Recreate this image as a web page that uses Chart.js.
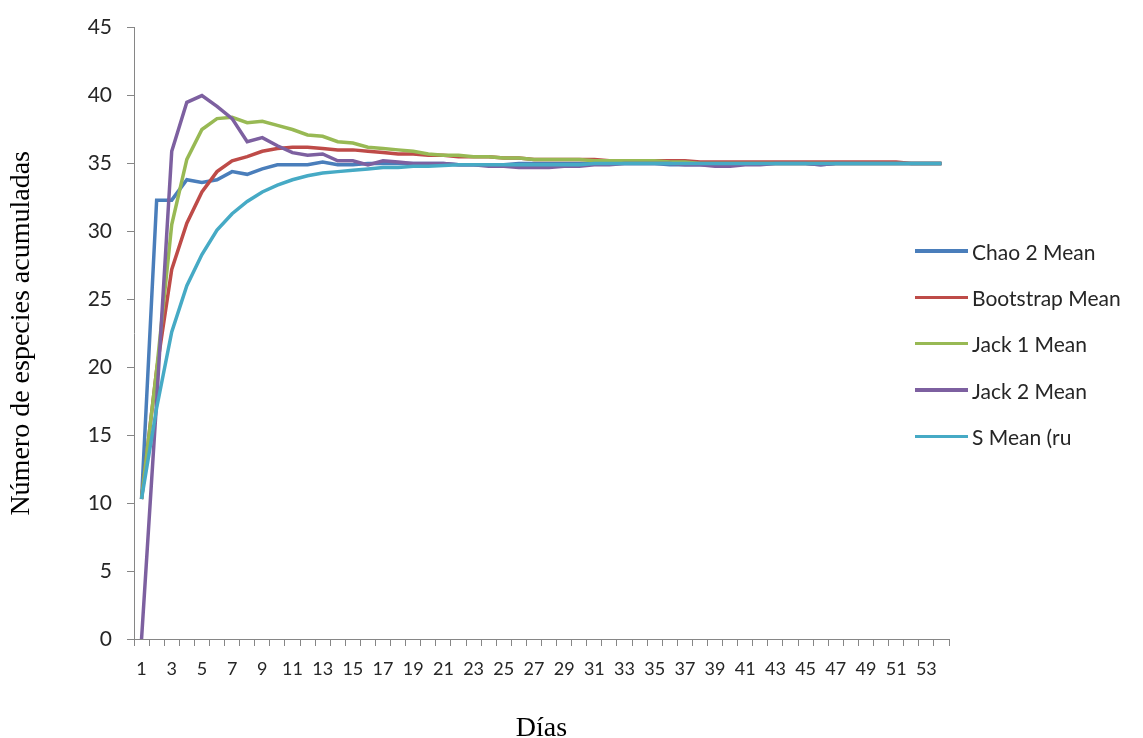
<!DOCTYPE html>
<html>
<head>
<meta charset="utf-8">
<script src="https://cdn.jsdelivr.net/npm/chart.js@4.4.1/dist/chart.umd.min.js"></script>
<style>
  body { margin: 0; background: #fff; }
  #wrap { position: relative; width: 1143px; height: 738px; }
  #legend { position: absolute; left: 915px; top: 228px; font-family: Lato, "Open Sans", sans-serif; font-size: 21px; color: #262626; }
  #legend .row { display: flex; align-items: center; height: 46.3px; }
  #legend .ln { width: 53px; height: 3.5px; margin-right: 4px; }
</style>
</head>
<body>
<div id="wrap">
  <canvas id="myChart" width="1143" height="738"></canvas>
  <div id="legend"></div>
</div>
<script>
const dias = [];
for (let d = 1; d <= 54; d++) dias.push(String(d));

const chao2 = [10.3, 32.3, 32.3, 33.8, 33.6, 33.8, 34.4, 34.2, 34.6, 34.9,
  34.9, 34.9, 35.1, 34.9, 34.9, 35.0, 35.0, 35.0, 35.0, 35.0,
  35.0, 34.9, 34.9, 34.9, 34.9, 35.0, 35.0, 35.0, 35.0, 35.0,
  35.0, 35.0, 35.0, 35.0, 35.0, 34.9, 34.9, 34.9, 34.9, 35.0,
  35.0, 35.0, 35.0, 35.0, 35.0, 34.9, 35.0, 35.0, 35.0, 35.0,
  35.0, 35.0, 35.0, 35.0];
const bootstrap = [10.3, 19.8, 27.2, 30.6, 32.9, 34.4, 35.2, 35.5, 35.9, 36.1,
  36.2, 36.2, 36.1, 36.0, 36.0, 35.9, 35.8, 35.7, 35.7, 35.6,
  35.6, 35.5, 35.5, 35.5, 35.4, 35.4, 35.3, 35.3, 35.3, 35.3,
  35.3, 35.2, 35.2, 35.2, 35.2, 35.2, 35.2, 35.1, 35.1, 35.1,
  35.1, 35.1, 35.1, 35.1, 35.1, 35.1, 35.1, 35.1, 35.1, 35.1,
  35.1, 35.0, 35.0, 35.0];
const jack1 = [10.3, 19.8, 30.5, 35.3, 37.5, 38.3, 38.4, 38.0, 38.1, 37.8,
  37.5, 37.1, 37.0, 36.6, 36.5, 36.2, 36.1, 36.0, 35.9, 35.7,
  35.6, 35.6, 35.5, 35.5, 35.4, 35.4, 35.3, 35.3, 35.3, 35.3,
  35.2, 35.2, 35.2, 35.2, 35.2, 35.1, 35.1, 35.0, 35.0, 35.0,
  35.0, 35.0, 35.0, 35.0, 35.0, 35.0, 35.0, 35.0, 35.0, 35.0,
  35.0, 35.0, 35.0, 35.0];
const jack2 = [0, 17.5, 35.9, 39.5, 40.0, 39.2, 38.3, 36.6, 36.9, 36.3,
  35.8, 35.6, 35.7, 35.2, 35.2, 34.9, 35.2, 35.1, 35.0, 35.0,
  35.0, 34.9, 34.9, 34.8, 34.8, 34.7, 34.7, 34.7, 34.8, 34.8,
  34.9, 34.9, 35.0, 35.0, 35.0, 35.0, 34.9, 34.9, 34.8, 34.8,
  34.9, 34.9, 35.0, 35.0, 35.0, 34.9, 35.0, 35.0, 35.0, 35.0,
  35.0, 35.0, 35.0, 35.0];
const sMean = [10.3, 17.0, 22.6, 26.0, 28.3, 30.1, 31.3, 32.2, 32.9, 33.4,
  33.8, 34.1, 34.3, 34.4, 34.5, 34.6, 34.7, 34.7, 34.8, 34.8,
  34.85, 34.9, 34.9, 34.9, 34.9, 34.9, 34.9, 34.9, 34.9, 34.9,
  35.0, 35.0, 35.0, 35.0, 35.0, 35.0, 35.0, 35.0, 35.0, 35.0,
  35.0, 35.0, 35.0, 35.0, 35.0, 35.0, 35.0, 35.0, 35.0, 35.0,
  35.0, 35.0, 35.0, 35.0];

const seriesNames = ['Chao 2 Mean', 'Bootstrap Mean', 'Jack 1 Mean', 'Jack 2 Mean', 'S Mean (ru'];
const colors = ['#4a7ebb', '#be4b48', '#98b954', '#7d60a0', '#46aac5'];
const values = [chao2, bootstrap, jack1, jack2, sMean];

const ctx = document.getElementById('myChart');

const datasets = values.map((v, i) => ({
  label: seriesNames[i],
  data: v,
  borderColor: colors[i],
  backgroundColor: colors[i],
  borderWidth: 3.5,
  pointRadius: 0,
  tension: 0,
  fill: false,
  order: 5 - i
}));

const axisGray = '#868686';

const chart = new Chart(ctx, {
  type: 'line',
  data: { labels: dias, datasets: datasets },
  options: {
    responsive: false,
    maintainAspectRatio: false,
    animation: false,
    layout: { padding: { top: 27, right: 194, left: 5, bottom: 0 } },
    plugins: { legend: { display: false }, tooltip: { enabled: false } },
    scales: {
      x: {
        offset: true,
        grid: { display: true, offset: true, drawOnChartArea: false, drawTicks: true, tickLength: 7, color: axisGray },
        border: { color: axisGray },
        ticks: {
          autoSkip: false, maxRotation: 0, padding: 12, color: '#262626',
          font: { family: 'Lato', size: 18 },
          callback: function(val, idx) { return idx % 2 === 0 ? this.getLabelForValue(val) : ''; }
        },
        title: { display: true, text: 'Días', color: '#000', font: { family: 'Liberation Serif', size: 28 }, padding: { top: 0, bottom: -7 } },
        afterFit: s => { s.height = 99; }
      },
      y: {
        min: 0, max: 45,
        grid: { display: true, drawOnChartArea: false, drawTicks: true, tickLength: 7, color: axisGray },
        border: { color: axisGray },
        ticks: { stepSize: 5, padding: 15, color: '#262626', font: { family: 'Lato', size: 21 } },
        title: { display: true, text: 'Número de especies acumuladas', color: '#000', font: { family: 'Liberation Serif', size: 28 }, padding: 0 },
        afterFit: s => { s.width = 129; }
      }
    }
  }
});

// legend as html
const leg = document.getElementById('legend');
chart.data.datasets.forEach(ds => {
  const row = document.createElement('div');
  row.className = 'row';
  row.innerHTML = '<div class="ln" style="background:' + ds.borderColor + '"></div><span>' + ds.label + '</span>';
  leg.appendChild(row);
});
</script>
</body>
</html>
